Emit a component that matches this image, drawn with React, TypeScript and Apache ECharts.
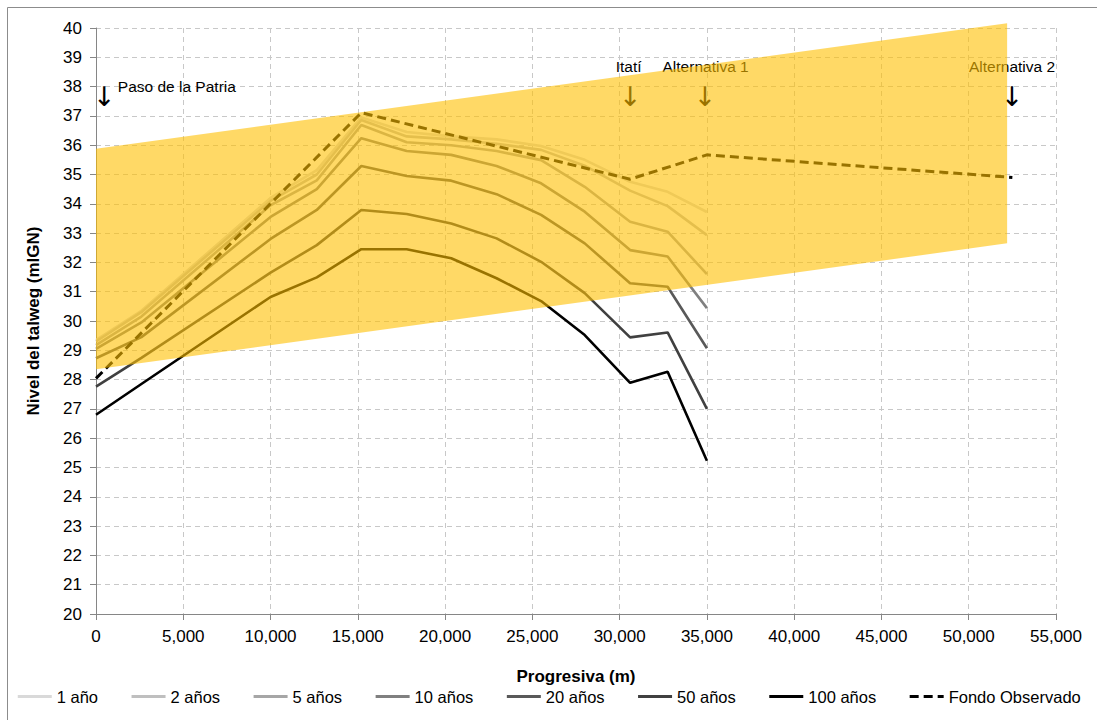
import React, { useEffect, useRef } from "react";
import * as echarts from "echarts";

// Stations (progresiva, m) for the simulated profiles
const stations = [0, 2600, 10000, 12650, 15200, 17800, 20350, 22950, 25500, 28000, 30600, 32750, 35000];

const y1 = [29.35, 30.35, 34.2, 35.15, 36.95, 36.45, 36.3, 36.2, 35.97, 35.5, 34.75, 34.41, 33.72];
const y2 = [29.3, 30.3, 34.1, 35.0, 36.86, 36.3, 36.2, 36.05, 35.84, 35.3, 34.45, 33.92, 32.93];
const y5 = [29.18, 30.15, 33.95, 34.8, 36.69, 36.1, 36.0, 35.8, 35.49, 34.58, 33.39, 33.05, 31.6];
const y10 = [29.05, 29.95, 33.55, 34.5, 36.24, 35.8, 35.67, 35.29, 34.7, 33.73, 32.42, 32.2, 30.44];
const y20 = [28.73, 29.45, 32.8, 33.79, 35.29, 34.95, 34.79, 34.33, 33.62, 32.65, 31.29, 31.17, 29.07];
const y50 = [27.76, 28.74, 31.65, 32.59, 33.79, 33.65, 33.33, 32.82, 32.02, 30.95, 29.44, 29.61, 27.0];
const y100 = [26.8, 27.85, 30.82, 31.49, 32.45, 32.45, 32.14, 31.46, 30.68, 29.52, 27.89, 28.27, 25.23];

const seriesNames = ["1 año", "2 años", "5 años", "10 años", "20 años", "50 años", "100 años"];
const seriesValues = [y1, y2, y5, y10, y20, y50, y100];
const seriesColors = ["#D9D9D9", "#BFBFBF", "#A6A6A6", "#808080", "#595959", "#404040", "#000000"];

// Observed bed profile
const observedName = "Fondo Observado";
const observedX = [0, 15200, 30600, 35000, 52500];
const observedY = [28.04, 37.11, 34.84, 35.67, 34.9];

// Yellow band corners
const bandX = [0, 52200, 52200, 0];
const bandY = [35.88, 40.16, 32.65, 28.35];

// Annotations
const noteLabels = ["Paso de la Patria", "Itatí", "Alternativa 1", "Alternativa 2"];
const noteX = [1250, 30515, 34925, 52480];
const noteY = [38.0, 38.67, 38.67, 38.67];
const noteAlign = ["left", "center", "center", "center"];
const arrowX = [475, 30610, 34900, 52480];
const arrowY = [37.66, 37.66, 37.66, 37.66];

const xTickFormat = (v: number) => v.toLocaleString("en-US");

export default function App() {
  const ref = useRef<HTMLDivElement>(null);
  useEffect(() => {
    if (!ref.current) return;
    const chart = echarts.init(ref.current, undefined, { renderer: "svg" });
    const font = "Liberation Sans";

    const lineSeries = seriesNames.map((name, k) => ({
      name,
      type: "line",
      data: stations.map((x, i) => [x, seriesValues[k][i]]),
      symbol: "none",
      lineStyle: { width: 2.6, color: seriesColors[k] },
      itemStyle: { color: seriesColors[k] },
      z: 2,
    }));

    const option = {
      animation: false,
      backgroundColor: "#ffffff",
      textStyle: { fontFamily: font },
      grid: { left: 96, right: 41, top: 28, bottom: 106, containLabel: false },
      legend: {
        data: [...seriesNames, observedName],
        bottom: 10,
        left: "center",
        itemWidth: 34,
        itemHeight: 12,
        itemGap: 32,
        itemStyle: { opacity: 0 },
        lineStyle: { width: 3 },
        textStyle: { fontFamily: font, fontSize: 16.5, color: "#000" },
      },
      xAxis: {
        type: "value",
        min: 0,
        max: 55000,
        interval: 5000,
        name: "Progresiva (m)",
        nameLocation: "middle",
        nameGap: 54,
        nameTextStyle: { fontFamily: font, fontSize: 17, fontWeight: "bold", color: "#000" },
        axisLine: { show: true, onZero: false, lineStyle: { color: "#868686", width: 1 } },
        axisTick: { show: true, length: 6, lineStyle: { color: "#868686" } },
        axisLabel: { formatter: xTickFormat, fontFamily: font, fontSize: 17, color: "#000", margin: 14 },
        splitLine: { show: true, lineStyle: { color: "#c8c8c8", type: [5, 4], width: 1 } },
      },
      yAxis: {
        type: "value",
        min: 20,
        max: 40,
        interval: 1,
        name: "Nivel del talweg (mIGN)",
        nameLocation: "middle",
        nameGap: 54,
        nameTextStyle: { fontFamily: font, fontSize: 17, fontWeight: "bold", color: "#000" },
        axisLine: { show: true, lineStyle: { color: "#868686", width: 1 } },
        axisTick: { show: true, length: 6, lineStyle: { color: "#868686" } },
        axisLabel: { fontFamily: font, fontSize: 17, color: "#000", margin: 14 },
        splitLine: { show: true, lineStyle: { color: "#c8c8c8", type: [5, 4], width: 1 } },
      },
      graphic: [
        {
          type: "rect",
          shape: { x: 7.5, y: 7.5, width: 1100, height: 730 },
          style: { fill: "none", stroke: "#8c8c8c", lineWidth: 1 },
          silent: true,
        },
      ],
      series: [
        {
          name: "notes",
          type: "scatter",
          data: noteLabels.map((n, i) => ({ value: [noteX[i], noteY[i]], name: n, label: { align: noteAlign[i] } })),
          symbolSize: 1,
          itemStyle: { color: "rgba(0,0,0,0)" },
          label: {
            show: true,
            position: "inside",
            formatter: (p: any) => p.name,
            fontFamily: font,
            fontSize: 15.5,
            color: "#000000",
            opacity: 1,
            textBorderWidth: 0,
          },
          silent: true,
          z: 1,
        },
        {
          name: "arrows",
          type: "scatter",
          data: arrowX.map((x, i) => [x, arrowY[i]]),
          symbolSize: 1,
          itemStyle: { color: "rgba(0,0,0,0)" },
          label: {
            show: true,
            position: "inside",
            formatter: "↓",
            fontFamily: "DejaVu Sans",
            fontSize: 27,
            color: "#000000",
            opacity: 1,
            textBorderWidth: 0,
          },
          silent: true,
          z: 1,
        },
        ...lineSeries,
        {
          name: observedName,
          type: "line",
          data: observedX.map((x, i) => [x, observedY[i]]),
          symbol: "none",
          lineStyle: { width: 3, color: "#000", type: [9, 5] },
          itemStyle: { color: "#000" },
          z: 2,
        },
        {
          name: "band",
          type: "custom",
          data: bandX.map((x, i) => [x, bandY[i]]),
          clip: false,
          silent: true,
          z: 3,
          renderItem: (params: any, api: any) => {
            if (params.dataIndex !== 0) return null;
            const pts = bandX.map((x, i) => api.coord([x, bandY[i]]));
            return {
              type: "polygon",
              shape: { points: pts },
              style: { fill: "rgba(255,192,0,0.6)" },
            };
          },
        },
      ],
    };
    chart.setOption(option as any);
    return () => chart.dispose();
  }, []);
  return (
    <div
      ref={ref}
      style={{ position: "fixed", left: 0, top: 0, width: "1097px", height: "720px", background: "#fff" }}
    />
  );
}
